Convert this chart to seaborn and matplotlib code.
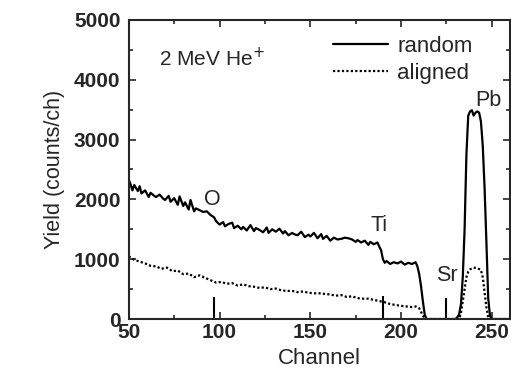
import numpy as np
import pandas as pd
import matplotlib
matplotlib.use("Agg")
import matplotlib.pyplot as plt
from matplotlib.ticker import MultipleLocator
import seaborn as sns

# random spectrum (channel, counts/ch)
random_ch = [50, 51, 52, 53, 55, 56, 57, 59, 61, 62, 64, 65, 67, 69, 70, 72, 73, 75, 77, 78, 80, 81, 83, 84, 86, 87,
             89, 91, 93, 95, 97, 98, 100, 102, 103, 105, 107, 108, 110, 112, 113, 115, 117, 119, 120, 122, 124, 126, 127,
             129, 131, 133, 135, 136, 138, 140, 141, 143, 145, 147, 149, 150, 152, 154, 156, 157, 159, 161, 163, 165,
             167, 169, 171, 173, 175, 176, 178, 180, 182, 183, 185, 187, 188, 189, 190, 191, 192, 194, 196, 198, 200, 202, 204,
             206, 208, 209, 210, 211, 212, 213, 214, 220, 225, 230, 231, 232, 233, 234, 235, 236, 237, 238, 239,
             240, 241, 242, 243, 244, 245, 246, 247, 248, 249, 250, 255, 260]
random_y = [2330, 2250, 2150, 2240, 2140, 2220, 2100, 2150, 2040, 2110, 2060, 2040, 2080, 2010, 1990, 2060, 1960, 2020, 1910, 2050, 1890, 1950, 1830, 1990, 1800, 1850,
            1820, 1790, 1800, 1740, 1700, 1640, 1580, 1620, 1550, 1590, 1610, 1520, 1560, 1500, 1540, 1480, 1570, 1470, 1520, 1490, 1450, 1530, 1440,
            1500, 1460, 1510, 1430, 1470, 1400, 1440, 1420, 1400, 1460, 1370, 1410, 1380, 1440, 1350, 1420, 1340, 1390, 1310, 1360, 1330,
            1340, 1360, 1350, 1330, 1290, 1320, 1280, 1310, 1240, 1290, 1250, 1280, 1210, 1150, 1000, 940, 970, 920, 950, 930, 960, 910, 940,
            920, 950, 880, 750, 550, 300, 80, 0, 0, 0, 0, 30, 80, 250, 700, 1500, 2750, 3400, 3470, 3490,
            3400, 3450, 3470, 3450, 3300, 2900, 2200, 1300, 350, 50, 0, 0, 0]

# aligned spectrum
aligned_ch = [50, 53, 56, 59, 62, 65, 68, 71, 74, 77, 80, 83, 86, 89, 92, 95, 98, 101, 104, 107,
              110, 113, 116, 119, 122, 125, 128, 131, 134, 137, 140, 143, 146, 149, 152, 155, 158, 161, 164, 167,
              170, 173, 176, 179, 182, 185, 188, 191, 194, 197, 200, 203, 206, 208, 210, 212, 213, 214, 225, 232,
              233, 234, 235, 236, 237, 238, 240, 242, 244, 245, 246, 247, 248, 249, 260]
aligned_y = [1050, 990, 960, 930, 890, 880, 840, 860, 800, 810, 750, 760, 700, 730, 690, 650, 610, 620, 590, 600,
             560, 580, 550, 540, 520, 530, 500, 510, 480, 470, 470, 450, 460, 440, 430, 430, 420, 410, 390, 400,
             370, 380, 350, 340, 340, 320, 300, 280, 250, 235, 220, 210, 200, 210, 180, 60, 10, 0, 0, 0,
             100, 300, 500, 700, 790, 830, 860, 850, 820, 700, 450, 200, 30, 0, 0]

# edge markers
marker_ch = [97, 190, 225]
marker_h = [370, 380, 350]

labels = ["O", "Ti", "Sr", "Pb"]
label_x = [96, 188, 225, 248]
label_y = [1990, 1570, 735, 3660]

df_r = pd.DataFrame({"Channel": random_ch, "Yield": random_y})
df_a = pd.DataFrame({"Channel": aligned_ch, "Yield": aligned_y})

sns.set_style("ticks")
plt.rcParams['font.family'] = ['Liberation Sans', 'DejaVu Sans']

fig = plt.figure(figsize=(5.11, 3.83), dpi=100)
ax = fig.add_axes([0.252, 0.167, 0.746, 0.781])

sns.lineplot(data=df_r, x="Channel", y="Yield", ax=ax, color="black", lw=1.6, label="random")
sns.lineplot(data=df_a, x="Channel", y="Yield", ax=ax, color="black", lw=1.6, ls=(0, (1, 1)), label="aligned")
ax.vlines(marker_ch, 0, marker_h, color="black", lw=1.5)

for t, x, y in zip(labels, label_x, label_y):
    ax.text(x, y, t, fontsize=15.5, ha="center", va="center")
ax.text(96, 4350, "2 MeV He$^{+}$", fontsize=15, ha="center", va="center")

ax.set_xlim(50, 260)
ax.set_ylim(0, 5000)
ax.xaxis.set_major_locator(MultipleLocator(50))
ax.xaxis.set_minor_locator(MultipleLocator(25))
ax.yaxis.set_major_locator(MultipleLocator(1000))
ax.yaxis.set_minor_locator(MultipleLocator(500))
ax.tick_params(which="both", direction="in", top=True, right=True, width=1.2)
ax.tick_params(which="major", length=5, labelsize=15)
ax.tick_params(axis="x", which="major", pad=3)
ax.tick_params(axis="y", which="major", pad=6)
ax.tick_params(which="minor", length=3)
for lab in ax.get_xticklabels() + ax.get_yticklabels():
    lab.set_fontweight("bold")
for s in ax.spines.values():
    s.set_linewidth(1.5)

ax.set_xlabel("Channel", fontsize=16, labelpad=4)
ax.set_ylabel("Yield (counts/ch)", fontsize=15.5, labelpad=6)

ax.legend(loc="upper left", bbox_to_anchor=(0.50, 0.99), frameon=False, fontsize=16,
          handlelength=2.5, handletextpad=0.4, labelspacing=0.25, borderaxespad=0.2)

fig.savefig("out.png", dpi=100)
